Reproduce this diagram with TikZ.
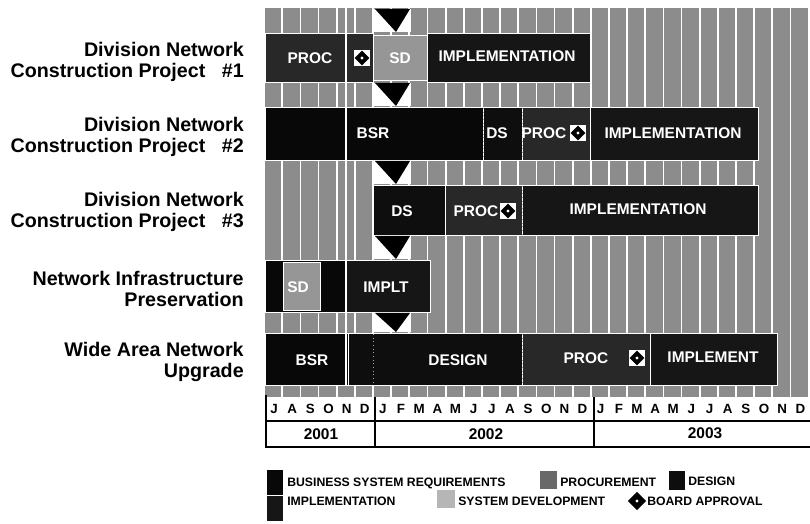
\documentclass[tikz,border=0pt]{standalone}
\usepackage{fontspec}
\setmainfont{Liberation Sans}
\usepackage{tikz}
\usetikzlibrary{shapes.geometric, positioning, calc}
\definecolor{cellgray}{RGB}{140,140,140}
\definecolor{bsrblack}{RGB}{8,8,8}
\definecolor{dsblack}{RGB}{14,14,14}
\definecolor{implblack}{RGB}{22,22,22}
\definecolor{procgray}{RGB}{40,40,40}
\definecolor{sdgray}{RGB}{150,150,150}

\tikzset{
  rowlabel/.style={anchor=east,align=right,inner sep=0pt,font=\fontsize{14}{14.5}\selectfont\bfseries},
  bartext/.style={text=white,inner sep=0pt,font=\fontsize{11}{12}\selectfont\bfseries},
  monthtext/.style={inner sep=0pt,font=\fontsize{9.5}{10}\selectfont\bfseries},
  yeartext/.style={inner sep=0pt,font=\fontsize{11}{12}\selectfont\bfseries},
  legendtext/.style={anchor=west,inner sep=0pt,font=\fontsize{8.7}{9}\selectfont\bfseries},
  barbox/.style={draw=white,line width=0.7pt},
  apbox/.style={fill=white,minimum size=11pt,inner sep=0pt},
  apmark/.style={diamond,fill=black,minimum size=10.5pt,inner sep=0pt},
  apdot/.style={diamond,fill=white,minimum size=2.5pt,inner sep=0pt},
  divider/.style={gray!70,dotted,line width=0.6pt},
}

\begin{document}
\begin{tikzpicture}[x=0.025cm,y=-0.025cm]
\useasboundingbox (0,0) rectangle (810,524);

% Month grid
\foreach \i in {0,...,29}
  \fill[cellgray] (265+18.15*\i,8) rectangle ++(16.4,389);

% Project names
\node[rowlabel] (p1) at (244,62) {Division Network\\Construction Project\ \ \ \#1};
\node[rowlabel] (p2) at (244,137) {Division Network\\Construction Project\ \ \ \#2};
\node[rowlabel] (p3) at (244,212) {Division Network\\Construction Project\ \ \ \#3};
\node[rowlabel] (p4) at (244,289) {Network Infrastructure\\Preservation};
\node[rowlabel] (p5) at (244,362) {Wide Area Network\\Upgrade};

% Row 1
\draw[barbox,fill=procgray] (265,33) rectangle (373,82);
\draw[barbox,fill=sdgray] (373,35) rectangle (427,80);
\draw[barbox,fill=implblack] (427,33) rectangle (590,82);
\node[bartext] (r1proc) at (310,58) {PROC};
\node[apbox] (r1ap) at (362,58) {};
\node[apmark] (r1apm) at (r1ap) {};
\node[apdot] (r1apd) at (r1ap) {};
\node[bartext] (r1sd) at (400,58) {SD};
\node[bartext] (r1impl) at (507,56) {IMPLEMENTATION};

% Row 2
\draw[barbox,fill=bsrblack] (265,107) rectangle (483,160);
\draw[barbox,fill=dsblack] (483,107) rectangle (522,160);
\draw[barbox,fill=procgray] (522,107) rectangle (590,160);
\draw[barbox,fill=implblack] (590,107) rectangle (758,160);
\draw[divider] (483,108) -- (483,159);
\draw[divider] (522,108) -- (522,159);
\node[bartext] (r2bsr) at (373,133) {BSR};
\node[bartext] (r2ds) at (497,133) {DS};
\node[bartext] (r2proc) at (544,133) {PROC};
\node[apbox] (r2ap) at (578,133) {};
\node[apmark] (r2apm) at (r2ap) {};
\node[apdot] (r2apd) at (r2ap) {};
\node[bartext] (r2impl) at (673,133) {IMPLEMENTATION};

% Row 3
\draw[barbox,fill=dsblack] (373,185) rectangle (445,235);
\draw[barbox,fill=procgray] (445,185) rectangle (522,235);
\draw[barbox,fill=implblack] (522,185) rectangle (758,235);
\draw[divider] (522,186) -- (522,234);
\node[bartext] (r3ds) at (402,211) {DS};
\node[bartext] (r3proc) at (476,211) {PROC};
\node[apbox] (r3ap) at (508,211) {};
\node[apmark] (r3apm) at (r3ap) {};
\node[apdot] (r3apd) at (r3ap) {};
\node[bartext] (r3impl) at (638,209) {IMPLEMENTATION};

% Row 4
\draw[barbox,fill=bsrblack] (265,260) rectangle (345,312);
\draw[barbox,fill=sdgray] (283,262) rectangle (320,310);
\draw[barbox,fill=implblack] (345,260) rectangle (430,312);
\node[bartext] (r4sd) at (298,287) {SD};
\node[bartext] (r4impl) at (386,287) {IMPLT};

% Row 5
\draw[barbox,fill=bsrblack] (265,333) rectangle (348,385);
\draw[barbox,fill=dsblack] (348,333) rectangle (522,385);
\draw[barbox,fill=procgray] (522,333) rectangle (650,385);
\draw[barbox,fill=implblack] (650,333) rectangle (777,385);
\draw[divider] (373,334) -- (373,384);
\draw[divider] (522,334) -- (522,384);
\node[bartext] (r5bsr) at (312,360) {BSR};
\node[bartext] (r5ds) at (458,360) {DESIGN};
\node[bartext] (r5proc) at (586,358) {PROC};
\node[apbox] (r5ap) at (637,358) {};
\node[apmark] (r5apm) at (r5ap) {};
\node[apdot] (r5apd) at (r5ap) {};
\node[bartext] (r5impl) at (713,357) {IMPLEMENT};

% Status date line and markers
\draw[white,line width=0.8pt] (346,8) -- (346,385);
\foreach \t/\b in {9/32,83/106,161/184,236/259,313/332} {
  \fill[white] (373,\t) rectangle (411,\b);
  \fill[black] (375,\t) -- (410,\t) -- (396,\b) -- cycle;
}

% Time scale
\foreach \m [count=\i from 0] in {J,A,S,O,N,D,J,F,M,A,M,J,J,A,S,O,N,D,J,F,M,A,M,J,J,A,S,O,N,D}
  \node[monthtext] (m\i) at (274+18.15*\i,409) {\m};
\draw[line width=0.8pt] (266,395) -- (266,447) -- (810,447);
\draw[line width=0.8pt] (266,421) -- (810,421);
\draw[line width=0.8pt] (375,397) -- (375,447);
\draw[line width=0.8pt] (594,397) -- (594,447);
\node[yeartext] (y1) at (321,434) {2001};
\node[yeartext] (y2) at (486,434) {2002};
\node[yeartext] (y3) at (705,433) {2003};

% Legend
\fill[bsrblack] (267,470) rectangle (283,495);
\fill[implblack] (267,496) rectangle (283,521);
\fill[procgray!70] (540,471) rectangle (557,489);
\fill[dsblack] (669,471) rectangle (685,490);
\fill[sdgray!70] (437,490) rectangle (455,508);
\node[diamond,fill=black,minimum size=13pt,inner sep=0pt] (lgap) at (637,501) {};
\node[apdot] (lgapd) at (lgap) {};
\node[legendtext] (lgbsr) at (287,483) {BUSINESS SYSTEM REQUIREMENTS};
\node[legendtext] (lgproc) at (560,482) {PROCUREMENT};
\node[legendtext] (lgds) at (688,481) {DESIGN};
\node[legendtext] (lgimpl) at (287,501) {IMPLEMENTATION};
\node[legendtext] (lgsd) at (458,501) {SYSTEM DEVELOPMENT};
\node[legendtext] (lgbap) at (647,501) {BOARD APPROVAL};
\end{tikzpicture}
\end{document}
